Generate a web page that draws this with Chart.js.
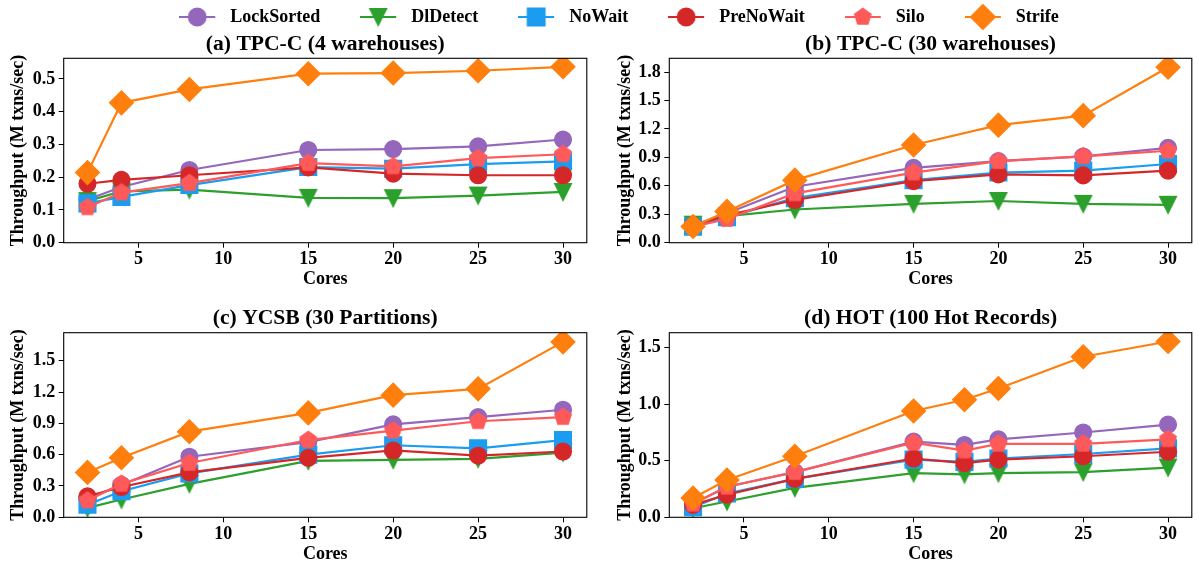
<!DOCTYPE html>
<html><head><meta charset="utf-8">
<script src="https://cdn.jsdelivr.net/npm/chart.js@4.4.1/dist/chart.umd.min.js"></script>
<style>
html,body{margin:0;padding:0;background:#fff;overflow:hidden;width:1198px;height:565px;position:relative}
canvas{position:absolute}
</style></head><body>
<canvas id="cl" width="1198" height="240" style="left:0;top:-32px"></canvas>
<canvas id="ca" width="600" height="270" style="left:0;top:30px"></canvas>
<canvas id="cb" width="605" height="270" style="left:600px;top:30px"></canvas>
<canvas id="cc" width="600" height="265" style="left:0;top:300px"></canvas>
<canvas id="cd" width="605" height="265" style="left:600px;top:300px"></canvas>
<script>
// ---------- data ----------
const seriesNames = ['LockSorted', 'DlDetect', 'NoWait', 'PreNoWait', 'Silo', 'Strife'];
const cores = [2, 4, 8, 15, 20, 25, 30];
const coresHot = [2, 4, 8, 15, 18, 20, 25, 30];
const xTickValues = [5, 10, 15, 20, 25, 30];

// (a) TPC-C (4 warehouses)
const tpcc4LockSorted = [0.132, 0.170, 0.222, 0.283, 0.286, 0.294, 0.315];
const tpcc4DlDetect   = [0.127, 0.157, 0.162, 0.137, 0.136, 0.144, 0.155];
const tpcc4NoWait     = [0.120, 0.140, 0.176, 0.231, 0.226, 0.240, 0.248];
const tpcc4PreNoWait  = [0.180, 0.192, 0.206, 0.230, 0.211, 0.206, 0.206];
const tpcc4Silo       = [0.108, 0.153, 0.182, 0.243, 0.233, 0.258, 0.270];
const tpcc4Strife     = [0.214, 0.427, 0.468, 0.516, 0.518, 0.525, 0.537];
const tpcc4Ticks = [0.0, 0.1, 0.2, 0.3, 0.4, 0.5];

// (b) TPC-C (30 warehouses)
const tpcc30LockSorted = [0.18, 0.31, 0.59, 0.79, 0.86, 0.91, 1.00];
const tpcc30DlDetect   = [0.19, 0.28, 0.35, 0.41, 0.44, 0.41, 0.40];
const tpcc30NoWait     = [0.17, 0.27, 0.47, 0.66, 0.74, 0.76, 0.83];
const tpcc30PreNoWait  = [0.18, 0.29, 0.45, 0.65, 0.72, 0.71, 0.76];
const tpcc30Silo       = [0.17, 0.25, 0.52, 0.74, 0.86, 0.91, 0.97];
const tpcc30Strife     = [0.17, 0.33, 0.66, 1.03, 1.24, 1.34, 1.85];
const tpcc30Ticks = [0.0, 0.3, 0.6, 0.9, 1.2, 1.5, 1.8];

// (c) YCSB (30 Partitions)
const ycsbLockSorted = [0.18, 0.31, 0.58, 0.72, 0.89, 0.96, 1.03];
const ycsbDlDetect   = [0.09, 0.17, 0.32, 0.54, 0.55, 0.56, 0.62];
const ycsbNoWait     = [0.12, 0.25, 0.42, 0.60, 0.69, 0.66, 0.74];
const ycsbPreNoWait  = [0.20, 0.29, 0.43, 0.57, 0.64, 0.59, 0.63];
const ycsbSilo       = [0.16, 0.32, 0.52, 0.74, 0.83, 0.92, 0.96];
const ycsbStrife     = [0.43, 0.57, 0.82, 1.00, 1.17, 1.23, 1.68];
const ycsbTicks = [0.0, 0.3, 0.6, 0.9, 1.2, 1.5];

// (d) HOT (100 Hot Records)
const hotLockSorted = [0.12, 0.27, 0.40, 0.67, 0.64, 0.69, 0.75, 0.82];
const hotDlDetect   = [0.08, 0.14, 0.26, 0.39, 0.38, 0.39, 0.40, 0.44];
const hotNoWait     = [0.09, 0.21, 0.34, 0.51, 0.49, 0.52, 0.56, 0.61];
const hotPreNoWait  = [0.11, 0.20, 0.34, 0.52, 0.48, 0.51, 0.54, 0.58];
const hotSilo       = [0.12, 0.27, 0.40, 0.66, 0.59, 0.65, 0.65, 0.69];
const hotStrife     = [0.17, 0.33, 0.54, 0.94, 1.04, 1.14, 1.42, 1.555];
const hotTicks = [0.0, 0.5, 1.0, 1.5];

// ---------- styles ----------
const seriesColors = ['#9467bd', '#2ca02c', '#1b9cf0', '#d62728', '#ff5a5a', '#ff7f0e'];
const FONT = "'Liberation Serif', 'Times New Roman', serif";
const f18 = {family: FONT, size: 18, weight: 'bold'};

function shapeCanvas(shape, color) {
  const s = 24, c = document.createElement('canvas');
  c.width = s; c.height = s;
  const g = c.getContext('2d');
  g.fillStyle = color; g.strokeStyle = color; g.lineWidth = 1.4; g.lineJoin = 'miter';
  g.beginPath();
  if (shape === 'triangleDown') {
    const h = 8.35;
    g.moveTo(12 - h, 12 - h); g.lineTo(12 + h, 12 - h); g.lineTo(12, 12 + h);
  } else {
    const r = 8.6;
    for (let k = 0; k < 5; k++) {
      const a = -Math.PI / 2 + k * 2 * Math.PI / 5;
      g.lineTo(12 + r * Math.cos(a), 12 + r * Math.sin(a));
    }
  }
  g.closePath(); g.fill(); g.stroke();
  return c;
}
const seriesMarkers = [
  {pointStyle: 'circle', radius: 8.35},
  {pointStyle: shapeCanvas('triangleDown', seriesColors[1]), radius: 10},
  {pointStyle: 'rect', radius: 11.8},
  {pointStyle: 'circle', radius: 8.35},
  {pointStyle: shapeCanvas('pentagon', seriesColors[4]), radius: 10},
  {pointStyle: 'rectRot', radius: 11.8}
];

function legendIcon(i) {
  const c = document.createElement('canvas');
  c.width = 42; c.height = 26;
  const g = c.getContext('2d');
  g.strokeStyle = seriesColors[i]; g.lineWidth = 2.2;
  g.beginPath(); g.moveTo(0, 13); g.lineTo(36, 13); g.stroke();
  const m = seriesMarkers[i];
  if (typeof m.pointStyle === 'string') {
    g.fillStyle = seriesColors[i]; g.strokeStyle = seriesColors[i];
    Chart.helpers.drawPoint(g, {pointStyle: m.pointStyle, radius: m.radius, rotation: 0, borderWidth: 1.4}, 18, 13);
  } else {
    g.drawImage(m.pointStyle, 18 - 12, 13 - 12);
  }
  return c;
}

const framePlugin = {
  id: 'frame',
  afterDraw(chart) {
    const {ctx, chartArea: a} = chart;
    ctx.save();
    ctx.strokeStyle = '#000'; ctx.lineWidth = 1.1;
    ctx.strokeRect(a.left, a.top, a.right - a.left, a.bottom - a.top);
    const t = chart.options.plugins.panelTitle;
    if (t && t.text) {
      ctx.fillStyle = '#000';
      ctx.font = "bold 21.6px " + FONT;
      ctx.textAlign = 'center'; ctx.textBaseline = 'alphabetic';
      ctx.fillText(t.text, (a.left + a.right) / 2, a.top - 8.3);
    }
    ctx.restore();
  }
};

function makePanel(id, title, xs, ys, yTicks, yMax, L) {
  const datasets = seriesNames.map((name, i) => ({
    label: name,
    data: xs.map((x, k) => ({x: x, y: ys[i][k]})),
    borderColor: seriesColors[i],
    backgroundColor: seriesColors[i],
    borderWidth: 2.2,
    pointStyle: seriesMarkers[i].pointStyle,
    pointRadius: seriesMarkers[i].radius,
    pointHoverRadius: seriesMarkers[i].radius,
    pointBorderWidth: 1.4,
    pointBackgroundColor: seriesColors[i],
    pointBorderColor: seriesColors[i],
    order: seriesNames.length - i,
    tension: 0
  }));
  const gridOpts = {display: true, drawOnChartArea: false, drawTicks: true, tickLength: 5, color: '#000', lineWidth: 1};
  return new Chart(document.getElementById(id), {
    type: 'line',
    data: {datasets},
    plugins: [framePlugin],
    options: {
      responsive: false, animation: false, events: [], devicePixelRatio: 1,
      layout: {padding: {top: L.top, right: L.right, left: 0, bottom: 0}},
      plugins: {legend: {display: false}, tooltip: {enabled: false}, panelTitle: {text: title}},
      scales: {
        x: {
          type: 'linear', min: 0.6, max: 31.4,
          afterFit: s => { s.height = L.xH; },
          afterBuildTicks: s => { s.ticks = xTickValues.map(v => ({value: v})); },
          ticks: {font: f18, color: '#000', padding: 1, maxRotation: 0, autoSkip: false, callback: v => String(v)},
          grid: gridOpts, border: {display: false},
          title: {display: true, text: 'Cores', font: f18, color: '#000', padding: {top: 0, bottom: L.xTitlePad}}
        },
        y: {
          type: 'linear', min: 0, max: yMax,
          afterFit: s => { s.width = L.yW; },
          afterBuildTicks: s => { s.ticks = yTicks.map(v => ({value: v})); },
          ticks: {font: f18, color: '#000', padding: 3.5, callback: v => v.toFixed(1)},
          grid: gridOpts, border: {display: false},
          title: {display: true, text: 'Throughput (M txns/sec)', font: f18, color: '#000', padding: {top: L.yTitlePad, bottom: 0}}
        }
      }
    }
  });
}

makePanel('ca', '(a) TPC-C (4 warehouses)', cores,
  [tpcc4LockSorted, tpcc4DlDetect, tpcc4NoWait, tpcc4PreNoWait, tpcc4Silo, tpcc4Strife],
  tpcc4Ticks, 0.563, {top: 28.3, right: 5, yW: 63.7, xH: 57.3, xTitlePad: 10.2, yTitlePad: 7.2});
makePanel('cb', '(b) TPC-C (30 warehouses)', cores,
  [tpcc30LockSorted, tpcc30DlDetect, tpcc30NoWait, tpcc30PreNoWait, tpcc30Silo, tpcc30Strife],
  tpcc30Ticks, 1.945, {top: 28.3, right: 4, yW: 69.3, xH: 57.3, xTitlePad: 10.2, yTitlePad: 14.2});
makePanel('cc', '(c) YCSB (30 Partitions)', cores,
  [ycsbLockSorted, ycsbDlDetect, ycsbNoWait, ycsbPreNoWait, ycsbSilo, ycsbStrife],
  ycsbTicks, 1.768, {top: 32.7, right: 5, yW: 63.7, xH: 47.7, xTitlePad: 0, yTitlePad: 7.2});
makePanel('cd', '(d) HOT (100 Hot Records)', coresHot,
  [hotLockSorted, hotDlDetect, hotNoWait, hotPreNoWait, hotSilo, hotStrife],
  hotTicks, 1.633, {top: 32.7, right: 4, yW: 69.3, xH: 47.7, xTitlePad: 0, yTitlePad: 14.2});

// ---------- legend ----------
const legendIcons = seriesNames.map((n, i) => legendIcon(i));
new Chart(document.getElementById('cl'), {
  type: 'line',
  data: {datasets: seriesNames.map((n, i) => ({label: n, data: [], borderColor: seriesColors[i], backgroundColor: seriesColors[i]}))},
  options: {
    responsive: false, animation: false, events: [], devicePixelRatio: 1,
    layout: {padding: {left: 40}},
    scales: {x: {display: false}, y: {display: false}},
    plugins: {
      tooltip: {enabled: false},
      legend: {
        display: true, position: 'top', align: 'center',
        labels: {
          usePointStyle: true, pointStyleWidth: 42, boxHeight: 18, padding: 40,
          font: f18, color: '#000',
          generateLabels: () => seriesNames.map((n, i) => ({
            text: n, pointStyle: legendIcons[i], fillStyle: seriesColors[i],
            strokeStyle: seriesColors[i], lineWidth: 0, hidden: false, datasetIndex: i, fontColor: '#000'
          }))
        }
      }
    }
  }
});
</script>
</body></html>
